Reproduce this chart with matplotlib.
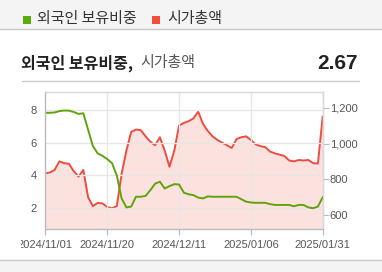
import numpy as np
import matplotlib
matplotlib.use('Agg')
import matplotlib.pyplot as plt
from matplotlib.ticker import FuncFormatter
from matplotlib.transforms import Bbox, TransformedBbox

# trading-day index, tick positions and labels
tick_pos = [0, 13, 28, 43, 58]
tick_labels = ['2024/11/01', '2024/11/20', '2024/12/11', '2025/01/06', '2025/01/31']

# foreign ownership ratio (%), left axis
foreign_ratio = [7.83, 7.83, 7.85, 7.93, 7.97, 7.96, 7.88, 7.76, 7.8, 6.8,
                 5.8, 5.35, 5.2, 5.0, 4.75, 4.0, 2.6, 2.05, 2.1, 2.7,
                 2.7, 2.75, 3.1, 3.5, 3.62, 3.2, 3.35, 3.47, 3.45, 2.95,
                 2.85, 2.8, 2.65, 2.6, 2.72, 2.7, 2.7, 2.7, 2.7, 2.7,
                 2.7, 2.55, 2.4, 2.35, 2.33, 2.33, 2.33, 2.25, 2.2, 2.2,
                 2.2, 2.2, 2.12, 2.2, 2.2, 2.05, 2.0, 2.1, 2.67]

# market cap, right axis
market_cap = [833, 838, 852, 900, 890, 887, 845, 815, 852, 700,
              650, 668, 665, 645, 638, 650, 830, 960, 1065, 1078,
              1075, 1040, 1010, 990, 1035, 960, 870, 960, 1100, 1115,
              1125, 1140, 1178, 1110, 1070, 1040, 1020, 1005, 990, 975,
              1025, 1035, 1040, 1020, 995, 985, 980, 955, 945, 938,
              930, 905, 900, 908, 905, 908, 890, 888, 1150]

W, H = 382, 272
green = '#62a30c'
red = '#ee4c3f'
kr = ['Noto Sans CJK KR', 'DejaVu Sans']

fig = plt.figure(figsize=(W / 100, H / 100), dpi=100)
fig.patch.set_facecolor('white')


def fx(px):
    return px / W


def fy(py):
    return 1 - py / H


# top legend strip and bottom strip
fig.patches.append(plt.Rectangle((0, fy(28.5)), 1, 1 - fy(28.5), transform=fig.transFigure,
                                 facecolor='#f4f4f4', edgecolor='none'))
fig.lines.append(plt.Line2D([0, 1], [fy(28.5), fy(28.5)], transform=fig.transFigure, color='#c8c8c8', lw=1))
fig.patches.append(plt.Rectangle((0, 0), 1, fy(260), transform=fig.transFigure,
                                 facecolor='#f4f4f4', edgecolor='none'))
fig.lines.append(plt.Line2D([0, 1], [fy(260), fy(260)], transform=fig.transFigure, color='#c8c8c8', lw=1))

# legend
fig.patches.append(plt.Rectangle((fx(22.5), fy(24)), fx(8), fy(16) - fy(24), transform=fig.transFigure,
                                 facecolor='#5aaa0a', edgecolor='none'))
fig.text(fx(37), fy(19.5), '외국인 보유비중', family=kr, fontsize=10.8, color='#333333', va='center')
fig.patches.append(plt.Rectangle((fx(152), fy(24)), fx(8), fy(16) - fy(24), transform=fig.transFigure,
                                 facecolor='#f04e3e', edgecolor='none'))
fig.text(fx(167), fy(19.5), '시가총액', family=kr, fontsize=10.8, color='#333333', va='center')

# title
fig.text(fx(21), fy(63), '외국인 보유비중,', family=kr, fontsize=11.5, fontweight='bold',
         color='#222222', va='center')
fig.text(fx(140), fy(63), '시가총액', family=kr, fontsize=10.8, color='#555555', va='center')
fig.text(fx(358), fy(63), '2.67', family='Liberation Sans', fontsize=15, fontweight='bold',
         color='#222222', va='center', ha='right')
fig.lines.append(plt.Line2D([fx(21.5), fx(359)], [fy(81.5), fy(81.5)], transform=fig.transFigure,
                            color='#cccccc', lw=1))

# chart
ax = fig.add_axes([fx(45), fy(229), fx(322.7) - fx(45), fy(92) - fy(229)])
ax2 = ax.twinx()
x = np.arange(len(market_cap))

ax2.fill_between(x, market_cap, 0, color='#fbe2df', lw=0)
ax2.plot(x, market_cap, color=red, lw=1.4)
ax2.set_ylim(522, 1288)
ax2.set_yticks([600, 800, 1000, 1200])
ax2.yaxis.set_major_formatter(FuncFormatter(lambda v, p: f'{int(v):,}'))

ax.set_zorder(ax2.get_zorder() + 1)
ax.patch.set_visible(False)
ax.plot(x, foreign_ratio, color=green, lw=1.4)
ax.set_ylim(0.73, 9.1)
ax.set_yticks([2, 4, 6, 8])
ax.set_xlim(0, len(market_cap) - 1)
ax.set_xticks(tick_pos)
ax.set_xticklabels(tick_labels)
ax.grid(True, color='#e6e6e6', lw=0.9)

for a in (ax, ax2):
    for s in a.spines.values():
        s.set_color('#d9d9d9')
        s.set_linewidth(0.9)
ax.spines['bottom'].set_color('#bbbbbb')
ax.spines['left'].set_color('#bbbbbb')
ax2.spines['right'].set_color('#bbbbbb')

ax.tick_params(axis='y', length=0, pad=6, labelsize=8, labelcolor='#555555')
ax.tick_params(axis='x', length=4, color='#bbbbbb', pad=4, labelsize=8, labelcolor='#555555')
ax2.tick_params(axis='y', length=4, color='#bbbbbb', pad=1, labelsize=8, labelcolor='#555555')
for lab in ax.get_xticklabels() + ax.get_yticklabels() + ax2.get_yticklabels():
    lab.set_family('Liberation Sans')

# first x label is cut off at the panel's left edge
clip = TransformedBbox(Bbox.from_extents(fx(20.5), 0, 1, 1), fig.transFigure)
for lab in ax.get_xticklabels():
    lab.set_clip_on(True)
    lab.set_clip_box(clip)

fig.savefig('out.png', dpi=100)
